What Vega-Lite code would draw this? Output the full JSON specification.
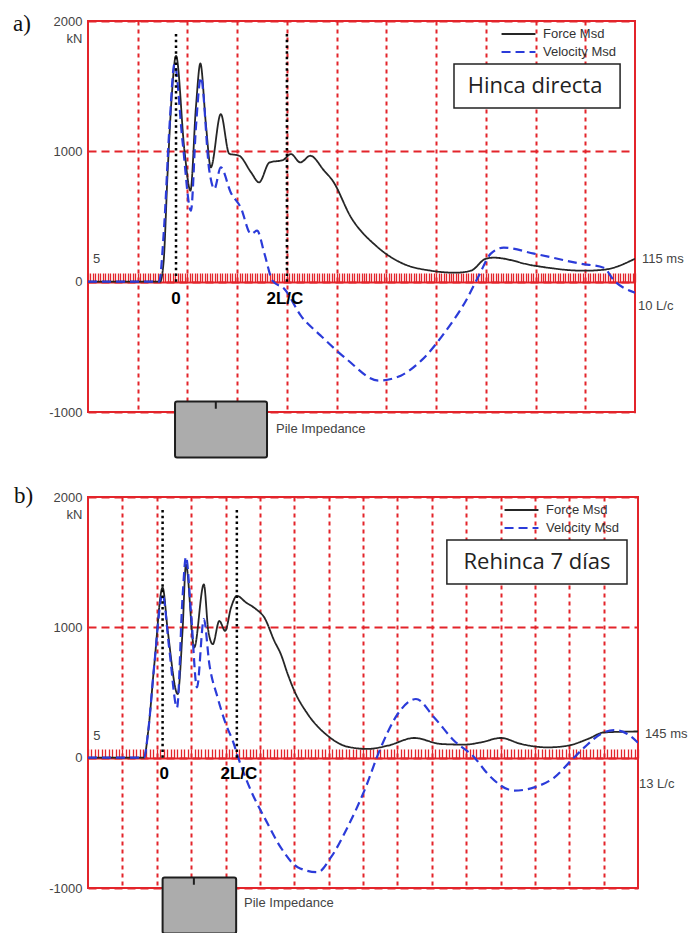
{
  "$schema": "https://vega.github.io/schema/vega-lite/v6.json",
  "background": "white",
  "padding": {"left": 12, "top": 12, "right": 5, "bottom": 0},
  "config": {
    "view": {"stroke": "#e3242b", "strokeWidth": 2},
    "font": "Liberation Sans"
  },
  "datasets": {
    "curvesA": [
      {"s": "Force Msd", "t": 0, "v": 0},
      {"s": "Force Msd", "t": 1.45, "v": 0},
      {"s": "Force Msd", "t": 1.52, "v": 150},
      {"s": "Force Msd", "t": 1.6, "v": 828},
      {"s": "Force Msd", "t": 1.68, "v": 1400},
      {"s": "Force Msd", "t": 1.77, "v": 1733},
      {"s": "Force Msd", "t": 1.94, "v": 1005},
      {"s": "Force Msd", "t": 2.06, "v": 698},
      {"s": "Force Msd", "t": 2.17, "v": 1337},
      {"s": "Force Msd", "t": 2.26, "v": 1674},
      {"s": "Force Msd", "t": 2.37, "v": 1212},
      {"s": "Force Msd", "t": 2.47, "v": 877},
      {"s": "Force Msd", "t": 2.67, "v": 1286},
      {"s": "Force Msd", "t": 2.84, "v": 982},
      {"s": "Force Msd", "t": 3.04, "v": 966},
      {"s": "Force Msd", "t": 3.28, "v": 838},
      {"s": "Force Msd", "t": 3.44, "v": 762},
      {"s": "Force Msd", "t": 3.65, "v": 915},
      {"s": "Force Msd", "t": 3.92, "v": 933},
      {"s": "Force Msd", "t": 4.08, "v": 979},
      {"s": "Force Msd", "t": 4.27, "v": 915},
      {"s": "Force Msd", "t": 4.47, "v": 966},
      {"s": "Force Msd", "t": 4.75, "v": 851},
      {"s": "Force Msd", "t": 4.92, "v": 775},
      {"s": "Force Msd", "t": 5.29, "v": 493},
      {"s": "Force Msd", "t": 5.79, "v": 276},
      {"s": "Force Msd", "t": 6.29, "v": 146},
      {"s": "Force Msd", "t": 6.9, "v": 84},
      {"s": "Force Msd", "t": 7.4, "v": 69},
      {"s": "Force Msd", "t": 7.7, "v": 84},
      {"s": "Force Msd", "t": 8.0, "v": 176},
      {"s": "Force Msd", "t": 8.16, "v": 184},
      {"s": "Force Msd", "t": 8.97, "v": 123},
      {"s": "Force Msd", "t": 9.97, "v": 84},
      {"s": "Force Msd", "t": 10.38, "v": 92},
      {"s": "Force Msd", "t": 11.0, "v": 176},
      {"s": "Velocity Msd", "t": 0, "v": 0},
      {"s": "Velocity Msd", "t": 1.43, "v": 0},
      {"s": "Velocity Msd", "t": 1.53, "v": 417},
      {"s": "Velocity Msd", "t": 1.64, "v": 1200},
      {"s": "Velocity Msd", "t": 1.74, "v": 1670},
      {"s": "Velocity Msd", "t": 1.9, "v": 1081},
      {"s": "Velocity Msd", "t": 2.07, "v": 545},
      {"s": "Velocity Msd", "t": 2.17, "v": 1183},
      {"s": "Velocity Msd", "t": 2.27, "v": 1567},
      {"s": "Velocity Msd", "t": 2.44, "v": 851},
      {"s": "Velocity Msd", "t": 2.54, "v": 711},
      {"s": "Velocity Msd", "t": 2.67, "v": 877},
      {"s": "Velocity Msd", "t": 2.87, "v": 685},
      {"s": "Velocity Msd", "t": 3.07, "v": 570},
      {"s": "Velocity Msd", "t": 3.28, "v": 366},
      {"s": "Velocity Msd", "t": 3.4, "v": 391},
      {"s": "Velocity Msd", "t": 3.55, "v": 212},
      {"s": "Velocity Msd", "t": 3.71, "v": 8},
      {"s": "Velocity Msd", "t": 3.95, "v": -56},
      {"s": "Velocity Msd", "t": 4.28, "v": -261},
      {"s": "Velocity Msd", "t": 4.68, "v": -414},
      {"s": "Velocity Msd", "t": 5.19, "v": -591},
      {"s": "Velocity Msd", "t": 5.85, "v": -759},
      {"s": "Velocity Msd", "t": 6.29, "v": -721},
      {"s": "Velocity Msd", "t": 6.7, "v": -606},
      {"s": "Velocity Msd", "t": 7.2, "v": -376},
      {"s": "Velocity Msd", "t": 7.6, "v": -146},
      {"s": "Velocity Msd", "t": 7.86, "v": 46},
      {"s": "Velocity Msd", "t": 8.1, "v": 215},
      {"s": "Velocity Msd", "t": 8.36, "v": 261},
      {"s": "Velocity Msd", "t": 8.97, "v": 215},
      {"s": "Velocity Msd", "t": 9.91, "v": 138},
      {"s": "Velocity Msd", "t": 10.37, "v": 107},
      {"s": "Velocity Msd", "t": 10.58, "v": 8},
      {"s": "Velocity Msd", "t": 11.0, "v": -84}
    ],
    "curvesB": [
      {"s": "Force Msd", "t": 0, "v": 0},
      {"s": "Force Msd", "t": 1.63, "v": 0},
      {"s": "Force Msd", "t": 1.75, "v": 200},
      {"s": "Force Msd", "t": 1.93, "v": 718},
      {"s": "Force Msd", "t": 2.17, "v": 1305},
      {"s": "Force Msd", "t": 2.32, "v": 973},
      {"s": "Force Msd", "t": 2.61, "v": 488},
      {"s": "Force Msd", "t": 2.75, "v": 973},
      {"s": "Force Msd", "t": 2.85, "v": 1480},
      {"s": "Force Msd", "t": 3.09, "v": 845},
      {"s": "Force Msd", "t": 3.37, "v": 1330},
      {"s": "Force Msd", "t": 3.5, "v": 973},
      {"s": "Force Msd", "t": 3.63, "v": 871},
      {"s": "Force Msd", "t": 3.82, "v": 1049},
      {"s": "Force Msd", "t": 3.99, "v": 973},
      {"s": "Force Msd", "t": 4.16, "v": 1151},
      {"s": "Force Msd", "t": 4.33, "v": 1241},
      {"s": "Force Msd", "t": 4.6, "v": 1190},
      {"s": "Force Msd", "t": 4.89, "v": 1139},
      {"s": "Force Msd", "t": 5.13, "v": 1075},
      {"s": "Force Msd", "t": 5.42, "v": 896},
      {"s": "Force Msd", "t": 5.61, "v": 794},
      {"s": "Force Msd", "t": 5.81, "v": 641},
      {"s": "Force Msd", "t": 5.99, "v": 520},
      {"s": "Force Msd", "t": 6.39, "v": 335},
      {"s": "Force Msd", "t": 6.97, "v": 169},
      {"s": "Force Msd", "t": 7.55, "v": 84},
      {"s": "Force Msd", "t": 8.14, "v": 67},
      {"s": "Force Msd", "t": 8.72, "v": 92},
      {"s": "Force Msd", "t": 9.49, "v": 151},
      {"s": "Force Msd", "t": 10.27, "v": 105},
      {"s": "Force Msd", "t": 10.95, "v": 100},
      {"s": "Force Msd", "t": 11.43, "v": 117},
      {"s": "Force Msd", "t": 12.01, "v": 151},
      {"s": "Force Msd", "t": 12.6, "v": 105},
      {"s": "Force Msd", "t": 13.37, "v": 79},
      {"s": "Force Msd", "t": 13.96, "v": 92},
      {"s": "Force Msd", "t": 14.54, "v": 143},
      {"s": "Force Msd", "t": 15.02, "v": 194},
      {"s": "Force Msd", "t": 16.0, "v": 201},
      {"s": "Velocity Msd", "t": 0, "v": 0},
      {"s": "Velocity Msd", "t": 1.63, "v": 0},
      {"s": "Velocity Msd", "t": 1.75, "v": 200},
      {"s": "Velocity Msd", "t": 1.93, "v": 718},
      {"s": "Velocity Msd", "t": 2.17, "v": 1254},
      {"s": "Velocity Msd", "t": 2.36, "v": 845},
      {"s": "Velocity Msd", "t": 2.59, "v": 385},
      {"s": "Velocity Msd", "t": 2.75, "v": 1228},
      {"s": "Velocity Msd", "t": 2.85, "v": 1540},
      {"s": "Velocity Msd", "t": 3.0, "v": 1101},
      {"s": "Velocity Msd", "t": 3.17, "v": 539},
      {"s": "Velocity Msd", "t": 3.37, "v": 1063},
      {"s": "Velocity Msd", "t": 3.53, "v": 718},
      {"s": "Velocity Msd", "t": 3.77, "v": 462},
      {"s": "Velocity Msd", "t": 4.01, "v": 258},
      {"s": "Velocity Msd", "t": 4.21, "v": 130},
      {"s": "Velocity Msd", "t": 4.4, "v": -23},
      {"s": "Velocity Msd", "t": 4.74, "v": -253},
      {"s": "Velocity Msd", "t": 5.18, "v": -483},
      {"s": "Velocity Msd", "t": 5.61, "v": -690},
      {"s": "Velocity Msd", "t": 6.1, "v": -840},
      {"s": "Velocity Msd", "t": 6.68, "v": -879},
      {"s": "Velocity Msd", "t": 7.07, "v": -764},
      {"s": "Velocity Msd", "t": 7.55, "v": -534},
      {"s": "Velocity Msd", "t": 8.04, "v": -253},
      {"s": "Velocity Msd", "t": 8.52, "v": 79},
      {"s": "Velocity Msd", "t": 9.01, "v": 335},
      {"s": "Velocity Msd", "t": 9.54, "v": 450},
      {"s": "Velocity Msd", "t": 10.07, "v": 309},
      {"s": "Velocity Msd", "t": 10.65, "v": 130},
      {"s": "Velocity Msd", "t": 11.24, "v": 2},
      {"s": "Velocity Msd", "t": 11.63, "v": -125},
      {"s": "Velocity Msd", "t": 12.4, "v": -253},
      {"s": "Velocity Msd", "t": 12.98, "v": -228},
      {"s": "Velocity Msd", "t": 13.57, "v": -151},
      {"s": "Velocity Msd", "t": 14.05, "v": -23},
      {"s": "Velocity Msd", "t": 14.44, "v": 79},
      {"s": "Velocity Msd", "t": 14.92, "v": 182},
      {"s": "Velocity Msd", "t": 15.3, "v": 212},
      {"s": "Velocity Msd", "t": 15.69, "v": 182},
      {"s": "Velocity Msd", "t": 16.0, "v": 115}
    ]
  },
  "vconcat": [
    {
      "width": 547,
      "height": 391,
      "title": {"text": "a)", "anchor": "start", "frame": "group", "orient": "top", "offset": 0, "dx": -75, "dy": 39, "baseline": "alphabetic", "font": "Liberation Serif", "fontSize": 23, "fontWeight": "normal", "color": "#111"},
      "resolve": {"axis": {"x": "independent", "y": "independent"}},
      "layer": [
        {
          "data": {"name": "curvesA"},
          "mark": {"type": "line", "interpolate": "monotone", "clip": true},
          "encoding": {
            "x": {"field": "t", "type": "quantitative", "scale": {"domain": [0, 11], "nice": false, "zero": false},
              "axis": {"orient": "bottom", "values": [1, 2, 3, 4, 5, 6, 7, 8, 9, 10], "grid": true, "gridColor": "#e3242b", "gridDash": [4, 4], "gridWidth": 2, "labels": false, "ticks": false, "domain": false, "title": null}},
            "y": {"field": "v", "type": "quantitative", "scale": {"domain": [-1000, 2000], "nice": false, "zero": false},
              "axis": {"orient": "left", "values": [-1000, 0, 1000, 2000], "labelExpr": "'' + datum.value", "grid": true, "gridColor": "#e3242b", "gridDash": [8, 5], "gridWidth": 2, "ticks": false, "domain": false, "labelFont": "Liberation Sans", "labelFontSize": 13, "labelColor": "#444", "labelPadding": 6, "title": "kN", "titleAngle": 0, "titleAlign": "right", "titleBaseline": "middle", "titleX": -6, "titleY": 17, "titleFont": "Liberation Sans", "titleFontSize": 13, "titleFontWeight": "normal", "titleColor": "#444"}},
            "color": {"field": "s", "type": "nominal", "scale": {"domain": ["Force Msd", "Velocity Msd"], "range": ["#262626", "#2b3bd9"]},
              "legend": {"title": null, "orient": "none", "legendX": 412, "legendY": 4, "symbolType": "stroke", "symbolSize": 1150, "symbolStrokeWidth": 2, "clipHeight": 18, "labelFont": "Liberation Sans", "labelFontSize": 13, "labelColor": "#333", "rowPadding": 0, "padding": 0, "labelOffset": 6}},
            "strokeDash": {"field": "s", "type": "nominal", "scale": {"domain": ["Force Msd", "Velocity Msd"], "range": [[1, 0], [9, 5]]},
              "legend": {"title": null, "orient": "none", "legendX": 412, "legendY": 4, "symbolType": "stroke", "symbolSize": 1150, "symbolStrokeWidth": 2, "clipHeight": 18, "labelFont": "Liberation Sans", "labelFontSize": 13, "labelColor": "#333", "rowPadding": 0, "padding": 0, "labelOffset": 6}},
            "strokeWidth": {"field": "s", "type": "nominal", "scale": {"domain": ["Force Msd", "Velocity Msd"], "range": [1.8, 2.2]}, "legend": null}
          }
        },
        {
          "data": {"values": [{"t": 1.77, "top": 1900, "bot": 0}, {"t": 4.0, "top": 1900, "bot": 0}]},
          "mark": {"type": "rule", "color": "#000", "strokeWidth": 2.5, "strokeDash": [2.5, 3.2]},
          "encoding": {
            "x": {"field": "t", "type": "quantitative", "scale": {"domain": [0, 11], "nice": false, "zero": false},
              "axis": {"orient": "top", "offset": -261, "tickCount": 176, "tickSize": 9, "tickColor": "#e3242b", "tickWidth": 1.3, "domainColor": "#e3242b", "domainWidth": 2, "labels": false, "grid": false, "title": null}},
            "y": {"field": "top", "type": "quantitative", "scale": {"domain": [-1000, 2000], "nice": false, "zero": false}, "axis": null},
            "y2": {"field": "bot"}
          }
        },
        {
          "data": {"values": [{"x1": 7.36, "x2": 10.7, "y1": 1670, "y2": 1333}]},
          "mark": {"type": "rect", "fill": "white", "stroke": "#222", "strokeWidth": 1.5},
          "encoding": {
            "x": {"field": "x1", "type": "quantitative", "scale": {"domain": [0, 11], "nice": false, "zero": false}, "axis": null},
            "x2": {"field": "x2"},
            "y": {"field": "y1", "type": "quantitative", "scale": {"domain": [-1000, 2000], "nice": false, "zero": false}, "axis": null},
            "y2": {"field": "y2"}
          }
        },
        {
          "data": {"values": [{"t": 8.99, "v": 1503, "txt": "Hinca directa"}]},
          "mark": {"type": "text", "align": "center", "baseline": "middle", "font": "Open Sans", "fontSize": 22, "color": "#222"},
          "encoding": {
            "x": {"field": "t", "type": "quantitative", "scale": {"domain": [0, 11], "nice": false, "zero": false}, "axis": null},
            "y": {"field": "v", "type": "quantitative", "scale": {"domain": [-1000, 2000], "nice": false, "zero": false}, "axis": null},
            "text": {"field": "txt"}
          }
        },
        {
          "data": {"values": [{"x1": 1.75, "x2": 3.6, "y1": -920, "y2": -1350}]},
          "mark": {"type": "rect", "fill": "#acacac", "stroke": "#1e1e1e", "strokeWidth": 2, "cornerRadius": 2},
          "encoding": {
            "x": {"field": "x1", "type": "quantitative", "scale": {"domain": [0, 11], "nice": false, "zero": false}, "axis": null},
            "x2": {"field": "x2"},
            "y": {"field": "y1", "type": "quantitative", "scale": {"domain": [-1000, 2000], "nice": false, "zero": false}, "axis": null},
            "y2": {"field": "y2"}
          }
        },
        {
          "data": {"values": [{"t": 2.57, "top": -920, "bot": -975}]},
          "mark": {"type": "rule", "color": "#1e1e1e", "strokeWidth": 2},
          "encoding": {
            "x": {"field": "t", "type": "quantitative", "scale": {"domain": [0, 11], "nice": false, "zero": false}, "axis": null},
            "y": {"field": "top", "type": "quantitative", "scale": {"domain": [-1000, 2000], "nice": false, "zero": false}, "axis": null},
            "y2": {"field": "bot"}
          }
        },
        {
          "data": {"values": [
            {"t": 0.1, "v": 176, "txt": "5"},
            {"t": 11.14, "v": 176, "txt": "115 ms"},
            {"t": 11.06, "v": -184, "txt": "10 L/c"},
            {"t": 3.78, "v": -1127, "txt": "Pile Impedance"}
          ]},
          "mark": {"type": "text", "align": "left", "baseline": "middle", "font": "Liberation Sans", "fontSize": 13, "color": "#444"},
          "encoding": {
            "x": {"field": "t", "type": "quantitative", "scale": {"domain": [0, 11], "nice": false, "zero": false}, "axis": null},
            "y": {"field": "v", "type": "quantitative", "scale": {"domain": [-1000, 2000], "nice": false, "zero": false}, "axis": null},
            "text": {"field": "txt"}
          }
        },
        {
          "data": {"values": [
            {"t": 1.77, "v": -130, "txt": "0"},
            {"t": 3.96, "v": -130, "txt": "2L/C"}
          ]},
          "mark": {"type": "text", "align": "center", "baseline": "middle", "font": "Liberation Sans", "fontSize": 17, "fontWeight": "bold", "color": "#000"},
          "encoding": {
            "x": {"field": "t", "type": "quantitative", "scale": {"domain": [0, 11], "nice": false, "zero": false}, "axis": null},
            "y": {"field": "v", "type": "quantitative", "scale": {"domain": [-1000, 2000], "nice": false, "zero": false}, "axis": null},
            "text": {"field": "txt"}
          }
        }
      ]
    },
    {
      "width": 550,
      "height": 391,
      "title": {"text": "b)", "anchor": "start", "frame": "group", "orient": "top", "offset": 0, "dx": -74, "dy": 35, "baseline": "alphabetic", "font": "Liberation Serif", "fontSize": 23, "fontWeight": "normal", "color": "#111"},
      "resolve": {"axis": {"x": "independent", "y": "independent"}},
      "layer": [
        {
          "data": {"name": "curvesB"},
          "mark": {"type": "line", "interpolate": "monotone", "clip": true},
          "encoding": {
            "x": {"field": "t", "type": "quantitative", "scale": {"domain": [0, 16], "nice": false, "zero": false},
              "axis": {"orient": "bottom", "values": [1, 2, 3, 4, 5, 6, 7, 8, 9, 10, 11, 12, 13, 14, 15], "grid": true, "gridColor": "#e3242b", "gridDash": [4, 4], "gridWidth": 2, "labels": false, "ticks": false, "domain": false, "title": null}},
            "y": {"field": "v", "type": "quantitative", "scale": {"domain": [-1000, 2000], "nice": false, "zero": false},
              "axis": {"orient": "left", "values": [-1000, 0, 1000, 2000], "labelExpr": "'' + datum.value", "grid": true, "gridColor": "#e3242b", "gridDash": [8, 5], "gridWidth": 2, "ticks": false, "domain": false, "labelFont": "Liberation Sans", "labelFontSize": 13, "labelColor": "#444", "labelPadding": 6, "title": "kN", "titleAngle": 0, "titleAlign": "right", "titleBaseline": "middle", "titleX": -6, "titleY": 17, "titleFont": "Liberation Sans", "titleFontSize": 13, "titleFontWeight": "normal", "titleColor": "#444"}},
            "color": {"field": "s", "type": "nominal", "scale": {"domain": ["Force Msd", "Velocity Msd"], "range": ["#262626", "#2b3bd9"]},
              "legend": {"title": null, "orient": "none", "legendX": 415, "legendY": 4, "symbolType": "stroke", "symbolSize": 1150, "symbolStrokeWidth": 2, "clipHeight": 18, "labelFont": "Liberation Sans", "labelFontSize": 13, "labelColor": "#333", "rowPadding": 0, "padding": 0, "labelOffset": 6}},
            "strokeDash": {"field": "s", "type": "nominal", "scale": {"domain": ["Force Msd", "Velocity Msd"], "range": [[1, 0], [9, 5]]},
              "legend": {"title": null, "orient": "none", "legendX": 415, "legendY": 4, "symbolType": "stroke", "symbolSize": 1150, "symbolStrokeWidth": 2, "clipHeight": 18, "labelFont": "Liberation Sans", "labelFontSize": 13, "labelColor": "#333", "rowPadding": 0, "padding": 0, "labelOffset": 6}},
            "strokeWidth": {"field": "s", "type": "nominal", "scale": {"domain": ["Force Msd", "Velocity Msd"], "range": [1.8, 2.2]}, "legend": null}
          }
        },
        {
          "data": {"values": [{"t": 2.17, "top": 1900, "bot": 0}, {"t": 4.33, "top": 1900, "bot": 0}]},
          "mark": {"type": "rule", "color": "#000", "strokeWidth": 2.5, "strokeDash": [2.5, 3.2]},
          "encoding": {
            "x": {"field": "t", "type": "quantitative", "scale": {"domain": [0, 16], "nice": false, "zero": false},
              "axis": {"orient": "top", "offset": -261, "tickCount": 160, "tickSize": 9, "tickColor": "#e3242b", "tickWidth": 1.3, "domainColor": "#e3242b", "domainWidth": 2, "labels": false, "grid": false, "title": null}},
            "y": {"field": "top", "type": "quantitative", "scale": {"domain": [-1000, 2000], "nice": false, "zero": false}, "axis": null},
            "y2": {"field": "bot"}
          }
        },
        {
          "data": {"values": [{"x1": 10.44, "x2": 15.68, "y1": 1670, "y2": 1333}]},
          "mark": {"type": "rect", "fill": "white", "stroke": "#222", "strokeWidth": 1.5},
          "encoding": {
            "x": {"field": "x1", "type": "quantitative", "scale": {"domain": [0, 16], "nice": false, "zero": false}, "axis": null},
            "x2": {"field": "x2"},
            "y": {"field": "y1", "type": "quantitative", "scale": {"domain": [-1000, 2000], "nice": false, "zero": false}, "axis": null},
            "y2": {"field": "y2"}
          }
        },
        {
          "data": {"values": [{"t": 13.06, "v": 1504, "txt": "Rehinca 7 días"}]},
          "mark": {"type": "text", "align": "center", "baseline": "middle", "font": "Open Sans", "fontSize": 22, "color": "#222"},
          "encoding": {
            "x": {"field": "t", "type": "quantitative", "scale": {"domain": [0, 16], "nice": false, "zero": false}, "axis": null},
            "y": {"field": "v", "type": "quantitative", "scale": {"domain": [-1000, 2000], "nice": false, "zero": false}, "axis": null},
            "text": {"field": "txt"}
          }
        },
        {
          "data": {"values": [{"x1": 2.17, "x2": 4.31, "y1": -920, "y2": -1350}]},
          "mark": {"type": "rect", "fill": "#acacac", "stroke": "#1e1e1e", "strokeWidth": 2, "cornerRadius": 2},
          "encoding": {
            "x": {"field": "x1", "type": "quantitative", "scale": {"domain": [0, 16], "nice": false, "zero": false}, "axis": null},
            "x2": {"field": "x2"},
            "y": {"field": "y1", "type": "quantitative", "scale": {"domain": [-1000, 2000], "nice": false, "zero": false}, "axis": null},
            "y2": {"field": "y2"}
          }
        },
        {
          "data": {"values": [{"t": 3.08, "top": -920, "bot": -975}]},
          "mark": {"type": "rule", "color": "#1e1e1e", "strokeWidth": 2},
          "encoding": {
            "x": {"field": "t", "type": "quantitative", "scale": {"domain": [0, 16], "nice": false, "zero": false}, "axis": null},
            "y": {"field": "top", "type": "quantitative", "scale": {"domain": [-1000, 2000], "nice": false, "zero": false}, "axis": null},
            "y2": {"field": "bot"}
          }
        },
        {
          "data": {"values": [
            {"t": 0.15, "v": 168, "txt": "5"},
            {"t": 16.2, "v": 184, "txt": "145 ms"},
            {"t": 16.03, "v": -199, "txt": "13 L/c"},
            {"t": 4.54, "v": -1118, "txt": "Pile Impedance"}
          ]},
          "mark": {"type": "text", "align": "left", "baseline": "middle", "font": "Liberation Sans", "fontSize": 13, "color": "#444"},
          "encoding": {
            "x": {"field": "t", "type": "quantitative", "scale": {"domain": [0, 16], "nice": false, "zero": false}, "axis": null},
            "y": {"field": "v", "type": "quantitative", "scale": {"domain": [-1000, 2000], "nice": false, "zero": false}, "axis": null},
            "text": {"field": "txt"}
          }
        },
        {
          "data": {"values": [
            {"t": 2.22, "v": -123, "txt": "0"},
            {"t": 4.39, "v": -123, "txt": "2L/C"}
          ]},
          "mark": {"type": "text", "align": "center", "baseline": "middle", "font": "Liberation Sans", "fontSize": 17, "fontWeight": "bold", "color": "#000"},
          "encoding": {
            "x": {"field": "t", "type": "quantitative", "scale": {"domain": [0, 16], "nice": false, "zero": false}, "axis": null},
            "y": {"field": "v", "type": "quantitative", "scale": {"domain": [-1000, 2000], "nice": false, "zero": false}, "axis": null},
            "text": {"field": "txt"}
          }
        }
      ]
    }
  ],
  "spacing": 85,
  "bounds": "flush",
  "resolve": {
    "scale": {"color": "independent", "strokeDash": "independent", "strokeWidth": "independent"},
    "legend": {"color": "independent", "strokeDash": "independent"}
  }
}
